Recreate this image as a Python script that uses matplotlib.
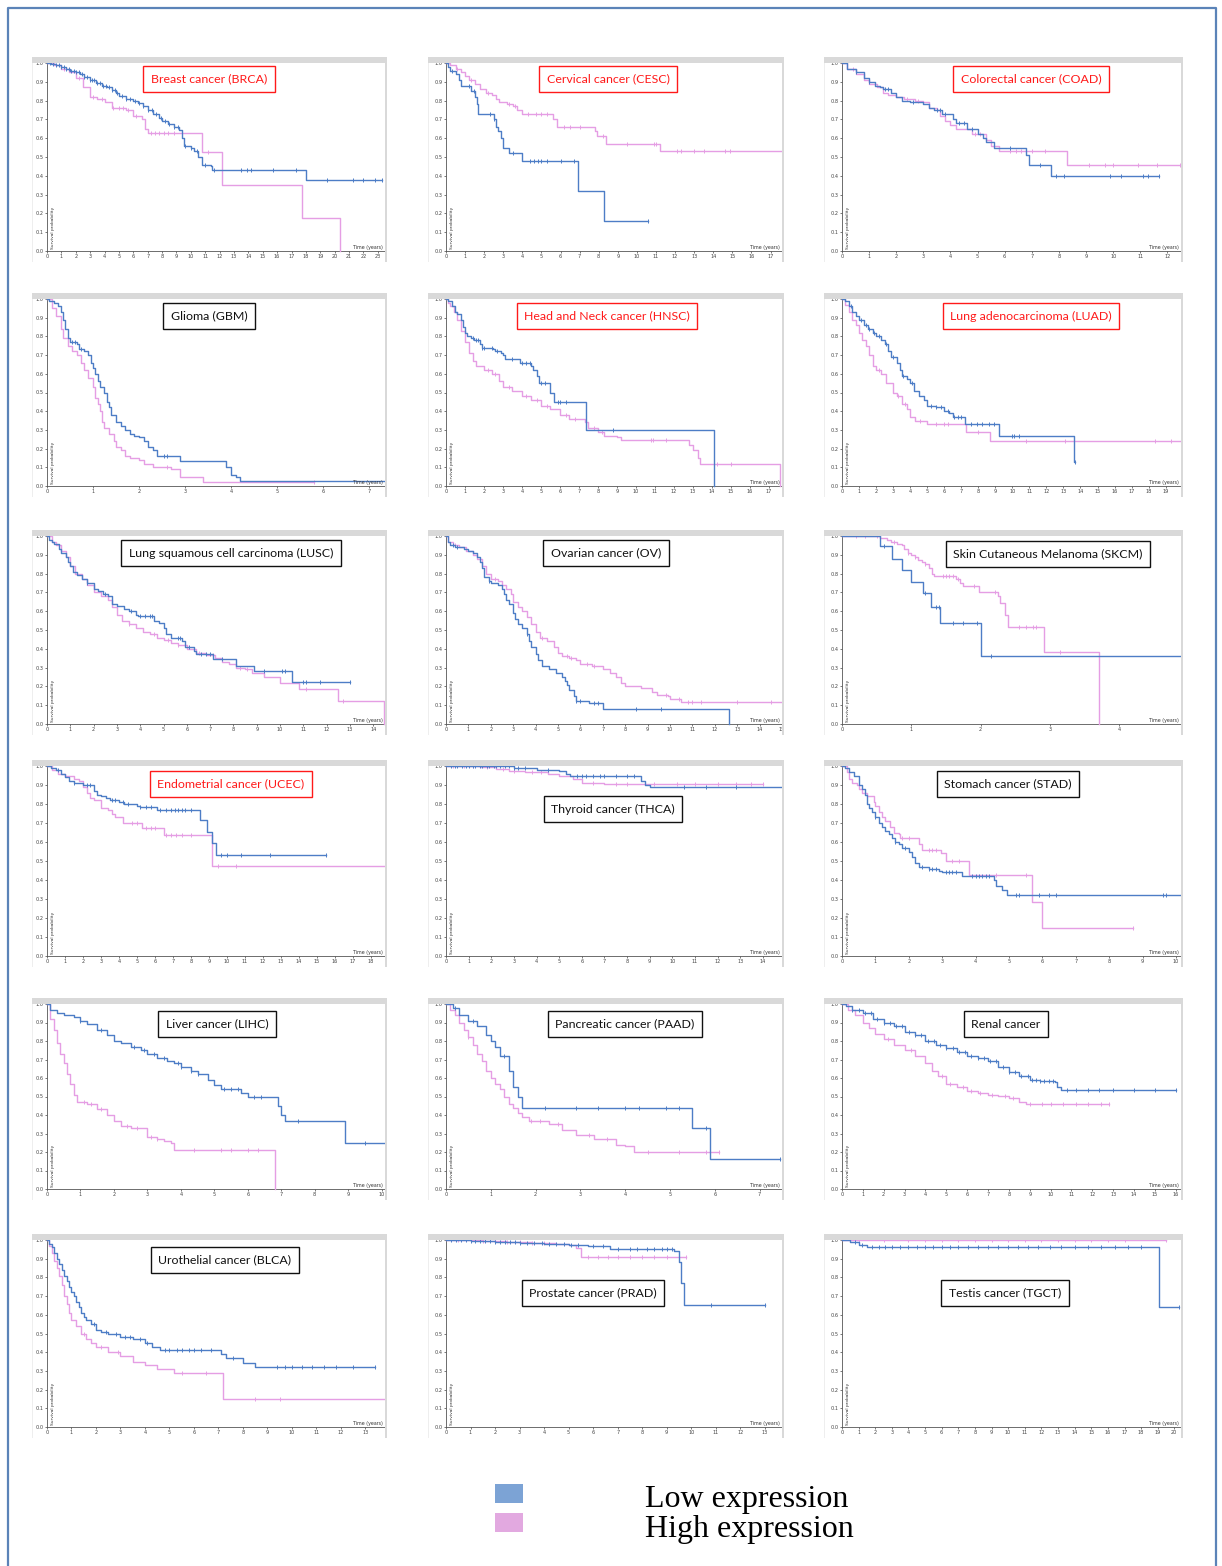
import numpy as np
import matplotlib.pyplot as plt
from matplotlib.patches import Rectangle

W, H = 1222, 1566
BLUE = '#4d7dc6'
PINK = '#e59ee4'

# ---- data: (time, survival after step) ; censor times ----
brca_low = [(0.3, .995), (0.6, .99), (1.0, .98), (1.3, .97), (1.6, .96), (2.0, .95), (2.3, .94),
            (2.6, .925), (3.0, .91), (3.4, .895), (3.8, .88), (4.2, .87), (4.5, .855), (4.8, .84),
            (5.0, .825), (5.5, .81), (6.0, .80), (6.3, .785), (6.7, .77), (7.0, .75), (7.4, .73),
            (7.8, .71), (8.0, .69), (8.4, .675), (8.8, .66), (9.2, .645), (9.4, .60), (9.5, .56),
            (10.0, .55), (10.2, .53), (10.5, .50), (10.8, .46), (11.4, .45), (11.5, .43), (18.0, .38)]
brca_low_c = [0.2, 0.4, 0.6, 0.8, 1.0, 1.2, 1.3, 1.5, 1.7, 1.9, 2.0, 2.2, 2.4, 2.6, 2.8, 3.0, 3.1, 3.3,
              3.5, 3.7, 3.9, 4.1, 4.3, 4.5, 4.7, 4.9, 5.2, 5.5, 5.8, 6.1, 6.4, 6.7, 7.0, 7.3, 7.6, 7.9,
              8.2, 8.5, 8.8, 9.1, 9.6, 10.0, 10.4, 11.0, 11.6, 13.5, 13.9, 14.2, 15.7, 17.3, 19.5,
              21.3, 22.0, 22.8, 23.3]
brca_high = [(0.5, .99), (1.0, .97), (1.5, .95), (2.0, .92), (2.5, .87), (3.0, .82), (3.5, .81),
             (4.0, .79), (4.5, .76), (5.5, .75), (6.0, .72), (6.6, .70), (6.8, .65), (7.0, .63),
             (10.8, .525), (12.2, .35), (17.7, .175), (20.4, 0.0)]
brca_high_c = [1.2, 2.2, 3.2, 3.8, 4.6, 5.0, 5.3, 5.6, 6.2, 7.2, 7.5, 7.8, 8.1, 8.4, 8.8, 11.2]

cesc_low = [(0.1, .98), (0.2, .96), (0.5, .94), (0.7, .91), (0.8, .88), (1.3, .85), (1.5, .82),
            (1.6, .78), (1.7, .73), (2.5, .70), (2.6, .66), (2.7, .64), (2.9, .60), (3.0, .55),
            (3.3, .52), (4.0, .48), (6.9, .32), (8.3, .16)]
cesc_low_c = [0.3, 1.2, 1.45, 2.3, 2.5, 3.5, 4.4, 4.6, 4.8, 5.0, 5.3, 6.0, 6.7, 10.6]
cesc_high = [(0.2, .99), (0.5, .97), (0.8, .95), (1.0, .93), (1.2, .91), (1.5, .89), (1.8, .86),
             (2.1, .84), (2.4, .83), (2.6, .81), (2.8, .79), (3.2, .78), (3.5, .77), (3.7, .75),
             (4.0, .73), (5.6, .70), (5.8, .66), (7.8, .64), (7.9, .61), (8.4, .57), (11.2, .53)]
cesc_high_c = [0.6, 1.3, 2.2, 3.3, 3.6, 4.3, 4.7, 5.0, 5.3, 6.2, 6.5, 7.0, 8.2, 9.5, 10.9, 11.0,
               12.1, 12.3, 13.0, 13.5, 14.6, 14.9, 17.6]

coad_low = [(0.2, .97), (0.5, .95), (0.8, .92), (1.0, .90), (1.2, .88), (1.4, .87), (1.5, .86),
            (1.8, .84), (2.0, .82), (2.2, .80), (2.5, .79), (3.0, .78), (3.2, .76), (3.4, .75),
            (3.7, .73), (4.1, .70), (4.2, .68), (4.6, .65), (5.0, .62), (5.2, .60), (5.3, .58),
            (5.6, .55), (6.8, .51), (6.9, .46), (7.7, .40)]
coad_low_c = [0.5, 1.0, 1.6, 1.7, 2.6, 3.5, 3.6, 3.8, 4.3, 4.5, 4.8, 6.2, 7.3, 7.9, 8.2, 9.9, 10.3,
              11.1, 11.3, 11.7]
coad_high = [(0.2, .97), (0.5, .94), (0.8, .91), (1.0, .89), (1.3, .87), (1.5, .84), (1.7, .83),
             (2.0, .82), (2.3, .81), (2.7, .80), (3.0, .79), (3.2, .76), (3.5, .75), (3.6, .72),
             (3.8, .69), (4.0, .67), (4.2, .65), (4.8, .62), (5.3, .59), (5.5, .56), (5.8, .53),
             (8.3, .46)]
coad_high_c = [0.4, 1.2, 2.4, 2.8, 4.9, 5.1, 6.2, 6.4, 6.6, 7.0, 7.5, 9.1, 9.7, 10.0, 10.9, 11.6,
               12.45]

gbm_low = [(0.05, .99), (0.15, .98), (0.25, .96), (0.3, .93), (0.35, .89), (0.4, .84), (0.45, .79),
           (0.5, .77), (0.65, .76), (0.7, .73), (0.8, .72), (0.9, .70), (0.95, .66), (1.0, .63),
           (1.05, .60), (1.1, .56), (1.15, .53), (1.25, .50), (1.3, .45), (1.35, .42), (1.4, .38),
           (1.5, .34), (1.6, .32), (1.7, .30), (1.8, .28), (1.9, .27), (2.0, .26), (2.1, .24),
           (2.2, .21), (2.3, .19), (2.4, .16), (2.9, .135), (3.9, .10), (4.0, .06), (4.1, .05),
           (4.2, .025)]
gbm_low_c = [0.55, 0.6, 0.75, 2.55, 2.6, 7.35]
gbm_high = [(0.1, .95), (0.2, .91), (0.3, .84), (0.35, .79), (0.45, .75), (0.55, .72), (0.65, .70),
            (0.75, .66), (0.8, .62), (0.9, .58), (1.0, .53), (1.05, .47), (1.1, .44), (1.15, .40),
            (1.2, .34), (1.25, .31), (1.35, .28), (1.45, .24), (1.5, .21), (1.6, .19), (1.7, .16),
            (1.8, .15), (2.0, .14), (2.1, .12), (2.3, .10), (2.7, .09), (2.9, .047), (3.4, .022)]
gbm_high_c = [2.6, 5.8]

hnsc_low = [(0.1, .99), (0.3, .96), (0.5, .93), (0.6, .92), (0.8, .89), (0.9, .85), (1.0, .82),
            (1.1, .80), (1.3, .79), (1.5, .78), (1.8, .76), (1.9, .74), (2.5, .73), (2.6, .72),
            (2.9, .71), (3.0, .70), (3.1, .68), (3.9, .66), (4.5, .64), (4.6, .62), (4.8, .59),
            (4.9, .55), (5.5, .50), (5.7, .45), (7.4, .30), (14.1, 0.0)]
hnsc_low_c = [1.4, 1.6, 1.7, 1.9, 2.0, 2.4, 2.7, 3.5, 4.0, 4.2, 4.4, 5.0, 5.2, 5.9, 6.0, 6.3, 8.8]
hnsc_high = [(0.1, .98), (0.2, .96), (0.4, .93), (0.6, .89), (0.8, .83), (1.0, .77), (1.2, .71),
             (1.4, .67), (1.6, .64), (2.0, .62), (2.4, .60), (2.8, .56), (3.0, .53), (3.5, .51),
             (4.0, .48), (4.5, .46), (5.0, .43), (5.5, .41), (6.0, .38), (6.5, .36), (7.3, .34),
             (7.5, .31), (8.0, .29), (8.3, .27), (9.0, .26), (9.2, .245), (12.8, .22), (13.0, .19),
             (13.3, .15), (13.4, .12), (17.6, 0.0)]
hnsc_high_c = [2.2, 2.6, 3.3, 4.2, 4.8, 5.3, 6.3, 6.8, 7.8, 8.2, 10.8, 10.9, 11.6, 14.3, 15.0]

luad_low = [(0.2, .99), (0.4, .96), (0.6, .93), (0.8, .91), (1.0, .89), (1.3, .86), (1.5, .84),
            (1.8, .82), (2.0, .80), (2.3, .78), (2.5, .76), (2.7, .72), (2.9, .69), (3.2, .66),
            (3.4, .62), (3.5, .59), (3.8, .57), (4.0, .55), (4.2, .51), (4.5, .48), (4.8, .46),
            (5.0, .43), (5.5, .42), (6.0, .40), (6.3, .39), (6.5, .37), (7.2, .33), (9.2, .27),
            (13.6, .13)]
luad_low_c = [0.5, 1.1, 1.4, 1.6, 1.9, 2.2, 2.6, 3.0, 3.6, 4.1, 5.2, 5.5, 5.8, 6.2, 6.6, 6.8, 7.0,
              7.6, 7.9, 8.2, 8.6, 8.9, 10.0, 10.1, 10.4, 13.7]
luad_high = [(0.2, .97), (0.4, .93), (0.6, .89), (0.8, .86), (1.0, .82), (1.2, .78), (1.4, .75),
             (1.6, .70), (1.8, .64), (2.0, .62), (2.3, .60), (2.6, .55), (3.0, .50), (3.2, .48),
             (3.5, .44), (3.8, .41), (4.0, .37), (4.3, .35), (5.0, .33), (7.3, .29), (8.7, .24)]
luad_high_c = [2.2, 3.3, 3.7, 4.6, 5.5, 6.0, 6.2, 8.0, 10.8, 13.1, 18.4, 19.3, 19.9]

lusc_low = [(0.1, .98), (0.2, .97), (0.3, .96), (0.5, .93), (0.6, .91), (0.8, .89), (0.9, .86),
            (1.0, .84), (1.1, .81), (1.3, .79), (1.5, .77), (1.7, .75), (2.0, .72), (2.2, .71),
            (2.4, .69), (2.6, .68), (2.8, .64), (3.0, .63), (3.3, .61), (3.5, .60), (3.8, .58),
            (3.9, .575), (4.6, .55), (4.8, .535), (5.0, .51), (5.1, .48), (5.3, .46), (5.8, .44),
            (5.9, .41), (6.3, .39), (6.4, .37), (7.1, .345), (8.1, .31), (8.9, .28), (10.5, .225)]
lusc_low_c = [1.7, 2.5, 3.6, 4.0, 4.2, 4.4, 4.5, 5.6, 5.7, 6.1, 6.6, 6.8, 7.0, 7.5, 9.3, 10.1, 10.2,
              11.0, 11.1, 11.7, 13.0]
lusc_high = [(0.2, .97), (0.4, .95), (0.6, .92), (0.8, .89), (1.0, .84), (1.2, .80), (1.5, .77),
             (1.7, .74), (2.0, .70), (2.3, .68), (2.6, .66), (2.8, .62), (3.0, .58), (3.2, .55),
             (3.5, .53), (3.8, .51), (4.1, .49), (4.4, .48), (4.7, .46), (5.0, .445), (5.3, .43),
             (5.6, .42), (6.0, .40), (6.4, .38), (6.8, .365), (7.2, .35), (7.5, .33), (7.8, .32),
             (8.1, .30), (8.5, .29), (8.8, .27), (9.3, .25), (10.0, .22), (10.8, .185), (12.5, .125),
             (14.45, 0.0)]
lusc_high_c = [3.5, 4.6, 5.2, 5.6, 6.5, 7.1, 8.3, 8.6, 11.1, 12.7]

ov_low = [(0.1, .97), (0.2, .95), (0.4, .94), (0.8, .93), (1.0, .92), (1.2, .91), (1.4, .89),
          (1.5, .86), (1.6, .83), (1.7, .78), (1.9, .76), (2.0, .75), (2.3, .74), (2.5, .72),
          (2.6, .69), (2.7, .66), (2.8, .64), (3.0, .59), (3.1, .56), (3.2, .53), (3.4, .51),
          (3.6, .48), (3.7, .44), (3.8, .41), (4.0, .37), (4.1, .34), (4.3, .31), (4.6, .29),
          (4.9, .27), (5.2, .25), (5.3, .23), (5.4, .21), (5.5, .18), (5.7, .15), (5.8, .125),
          (6.4, .11), (7.0, .08), (12.65, 0.0)]
ov_low_c = [0.3, 0.5, 1.9, 3.6, 5.8, 6.0, 6.6, 6.8, 8.5, 9.6]
ov_high = [(0.1, .97), (0.3, .95), (0.6, .94), (0.9, .92), (1.2, .90), (1.4, .88), (1.6, .84),
           (1.8, .80), (2.0, .77), (2.3, .76), (2.5, .74), (2.7, .72), (2.9, .69), (3.0, .65),
           (3.2, .62), (3.4, .60), (3.6, .57), (3.8, .53), (4.0, .49), (4.2, .46), (4.5, .44),
           (4.8, .41), (5.0, .38), (5.2, .36), (5.5, .35), (5.8, .34), (6.0, .32), (6.5, .31),
           (7.0, .29), (7.3, .27), (7.6, .25), (7.8, .22), (8.0, .20), (8.7, .19), (9.2, .17),
           (9.4, .155), (9.9, .15), (10.0, .135), (10.5, .115)]
ov_high_c = [0.4, 2.2, 4.3, 5.4, 5.6, 6.3, 6.6, 9.8, 10.4, 10.8, 11.0, 11.4, 13.0, 14.5, 15.0]

skcm_low = [(0.55, .945), (0.72, .88), (0.87, .82), (1.0, .755), (1.17, .695), (1.29, .625),
            (1.42, .535), (2.0, .36)]
skcm_low_c = [0.6, 1.2, 1.35, 1.4, 1.6, 1.75, 1.95, 2.15, 4.89]
skcm_high = [(0.55, .99), (0.65, .98), (0.7, .97), (0.8, .96), (0.87, .95), (0.9, .93), (0.95, .91),
             (1.0, .90), (1.05, .89), (1.1, .875), (1.15, .86), (1.2, .85), (1.25, .83), (1.3, .80),
             (1.32, .785), (1.65, .77), (1.7, .75), (1.75, .735), (1.97, .70), (2.25, .68),
             (2.28, .645), (2.35, .58), (2.4, .515), (2.92, .385), (3.7, 0.0)]
skcm_high_c = [0.2, 0.33, 0.5, 0.75, 0.95, 1.05, 1.2, 1.45, 1.5, 1.55, 1.6, 1.68, 1.9, 2.2, 2.55,
               2.65, 2.75, 2.8, 3.15]

ucec_low = [(0.2, .99), (0.5, .98), (0.8, .96), (1.0, .94), (1.2, .92), (1.5, .91), (2.0, .90),
            (2.6, .87), (2.8, .85), (3.0, .84), (3.3, .83), (3.5, .82), (4.0, .81), (4.3, .80),
            (5.0, .79), (5.2, .785), (6.1, .77), (8.5, .715), (8.9, .655), (9.2, .595), (9.4, .53)]
ucec_low_c = [0.6, 1.5, 2.2, 2.4, 3.6, 3.8, 4.2, 4.5, 5.2, 5.5, 5.8, 6.3, 6.6, 6.9, 7.1, 7.3, 7.5,
              7.7, 8.0, 9.7, 10.0, 10.8, 12.4, 15.5]
ucec_high = [(0.3, .98), (0.6, .96), (1.0, .95), (1.5, .93), (1.8, .92), (2.0, .89), (2.2, .86),
             (2.4, .83), (2.6, .82), (3.0, .78), (3.4, .77), (3.6, .75), (3.8, .73), (4.2, .70),
             (5.3, .675), (6.5, .635), (9.2, .475)]
ucec_high_c = [4.7, 5.0, 5.5, 5.8, 6.0, 6.6, 6.9, 7.2, 7.5, 8.0, 9.5, 10.5, 18.8]

thca_low = [(3.0, .99), (4.0, .98), (5.0, .975), (5.3, .96), (5.5, .95), (8.6, .92), (8.8, .90),
            (9.0, .89)]
thca_low_c = [0.2, 0.4, 0.5, 0.7, 0.9, 1.0, 1.2, 1.3, 1.5, 1.6, 1.8, 1.9, 2.1, 2.2, 2.4, 2.6, 2.8,
              3.0, 3.2, 3.5, 4.5, 5.8, 6.0, 6.2, 6.5, 6.8, 7.0, 7.5, 8.0, 8.3, 10.5, 11.5, 12.8, 14.85]
thca_high = [(0.5, .998), (1.5, .995), (2.2, .985), (2.8, .975), (3.5, .97), (4.5, .96), (5.0, .95),
             (5.6, .93), (6.0, .91), (7.0, .905)]
thca_high_c = [0.3, 0.8, 1.2, 1.8, 2.5, 3.0, 3.8, 4.2, 6.5, 7.5, 8.0, 9.2, 10.2, 11.0, 12.0, 12.8,
               13.5, 14.0]

stad_low = [(0.1, .99), (0.2, .97), (0.35, .95), (0.5, .90), (0.6, .88), (0.7, .85), (0.75, .80),
            (0.8, .78), (0.9, .76), (1.0, .73), (1.1, .70), (1.2, .68), (1.3, .66), (1.4, .64),
            (1.5, .62), (1.6, .60), (1.7, .59), (1.8, .57), (2.0, .55), (2.1, .52), (2.2, .49),
            (2.3, .47), (2.6, .46), (2.9, .45), (3.0, .44), (3.6, .42), (4.55, .40), (4.6, .37),
            (4.8, .35), (4.95, .32)]
stad_low_c = [1.0, 1.6, 1.9, 2.4, 2.6, 2.7, 2.8, 3.1, 3.2, 3.3, 3.4, 3.9, 4.0, 4.1, 4.2, 4.3, 4.4,
              5.2, 5.3, 5.9, 6.2, 6.4, 9.6, 9.7, 10.15]
stad_high = [(0.15, .97), (0.2, .93), (0.3, .91), (0.45, .90), (0.5, .88), (0.6, .86), (0.75, .84),
             (0.95, .81), (1.0, .79), (1.1, .76), (1.2, .73), (1.3, .71), (1.45, .68), (1.55, .65),
             (1.7, .64), (1.75, .62), (2.3, .59), (2.4, .56), (2.95, .54), (3.1, .50), (3.8, .425),
             (5.7, .285), (6.0, .145)]
stad_high_c = [1.8, 2.0, 2.6, 2.7, 2.8, 3.3, 3.5, 4.6, 5.5, 8.7]

lihc_low = [(0.1, .97), (0.3, .95), (0.5, .94), (0.8, .93), (1.0, .91), (1.2, .89), (1.5, .86),
            (1.8, .83), (2.0, .80), (2.2, .79), (2.5, .77), (2.8, .75), (3.0, .73), (3.3, .71),
            (3.6, .69), (3.8, .68), (4.0, .66), (4.3, .64), (4.5, .62), (4.8, .59), (5.0, .56),
            (5.2, .54), (5.8, .52), (6.0, .50), (6.9, .45), (7.0, .40), (7.1, .37), (8.9, .25)]
lihc_low_c = [1.0, 1.6, 2.6, 2.9, 3.2, 3.5, 3.9, 4.0, 4.3, 4.5, 5.3, 5.5, 5.7, 6.2, 6.4, 7.5, 9.5,
              10.1]
lihc_high = [(0.1, .92), (0.2, .86), (0.3, .79), (0.4, .73), (0.5, .68), (0.6, .62), (0.7, .57),
             (0.8, .51), (0.9, .47), (1.2, .46), (1.5, .43), (1.8, .40), (2.0, .37), (2.2, .34),
             (2.5, .33), (3.0, .28), (3.3, .27), (3.5, .26), (3.7, .25), (3.8, .21), (6.8, 0.0)]
lihc_high_c = [1.1, 1.3, 1.6, 2.4, 2.7, 3.1, 3.3, 4.4, 5.2, 5.5, 6.0, 6.3]

paad_low = [(0.15, .98), (0.3, .94), (0.5, .91), (0.7, .88), (0.9, .83), (1.0, .80), (1.1, .77),
            (1.2, .72), (1.4, .64), (1.5, .55), (1.6, .50), (1.7, .44), (5.5, .33), (5.9, .16)]
paad_low_c = [0.2, 0.6, 1.3, 2.2, 2.9, 3.4, 4.0, 4.3, 4.9, 5.2, 5.8, 7.45]
paad_high = [(0.1, .97), (0.2, .94), (0.3, .90), (0.4, .86), (0.5, .82), (0.6, .78), (0.7, .73),
             (0.8, .69), (0.9, .64), (1.0, .60), (1.1, .57), (1.2, .54), (1.3, .50), (1.4, .46),
             (1.5, .44), (1.6, .41), (1.7, .39), (1.85, .37), (2.3, .35), (2.6, .32), (2.9, .29),
             (3.3, .27), (3.8, .24), (4.0, .23), (4.2, .20)]
paad_high_c = [0.5, 1.9, 2.1, 2.5, 3.2, 3.6, 4.5, 5.2, 5.8, 6.1]

renal_low = [(0.2, .99), (0.5, .97), (1.0, .95), (1.5, .92), (2.0, .90), (2.5, .88), (3.0, .85),
             (3.5, .83), (4.0, .80), (4.5, .78), (5.0, .76), (5.5, .74), (6.0, .72), (6.5, .71),
             (7.0, .69), (7.5, .66), (8.0, .63), (8.5, .61), (9.0, .59), (9.5, .585), (10.2, .58),
             (10.3, .55), (10.5, .535)]
renal_low_c = [0.5, 0.8, 1.1, 1.4, 1.7, 2.0, 2.3, 2.6, 2.9, 3.2, 3.5, 3.8, 4.1, 4.4, 4.7, 5.0, 5.3,
               5.6, 5.9, 6.2, 6.5, 6.8, 7.1, 7.4, 7.7, 8.0, 8.3, 8.6, 8.9, 9.1, 9.3, 9.5, 9.7, 9.9,
               10.1, 10.8, 11.2, 11.8, 12.3, 13.0, 14.0, 15.0, 16.0]
renal_high = [(0.3, .97), (0.6, .94), (1.0, .90), (1.3, .87), (1.6, .84), (2.0, .81), (2.5, .78),
              (3.0, .75), (3.5, .72), (4.0, .68), (4.3, .64), (4.6, .61), (5.0, .57), (5.5, .55),
              (6.0, .53), (6.5, .52), (7.0, .51), (7.5, .505), (8.0, .49), (8.5, .47), (8.8, .46)]
renal_high_c = [2.2, 3.3, 4.8, 5.2, 5.8, 6.2, 6.6, 7.2, 7.8, 8.2, 9.0, 9.6, 10.0, 10.6, 11.2, 11.8,
                12.4, 12.8]

blca_low = [(0.1, .98), (0.2, .96), (0.3, .93), (0.4, .90), (0.5, .87), (0.6, .84), (0.7, .81),
            (0.8, .78), (0.9, .75), (1.0, .72), (1.1, .70), (1.2, .67), (1.3, .64), (1.4, .61),
            (1.5, .59), (1.6, .57), (1.8, .55), (2.0, .52), (2.2, .51), (2.5, .50), (3.0, .48),
            (3.5, .47), (4.0, .45), (4.3, .43), (4.6, .41), (7.1, .39), (7.3, .37), (8.0, .34),
            (8.5, .32)]
blca_low_c = [1.9, 2.4, 2.8, 3.2, 3.4, 3.8, 4.1, 4.8, 5.0, 5.3, 5.5, 5.8, 6.0, 6.3, 6.7, 7.6, 9.4,
              9.7, 10.0, 10.4, 10.8, 11.3, 11.8, 12.5, 13.4]
blca_high = [(0.1, .97), (0.2, .93), (0.3, .89), (0.4, .85), (0.5, .81), (0.6, .76), (0.7, .70),
             (0.8, .66), (0.9, .61), (1.0, .57), (1.2, .54), (1.4, .50), (1.6, .47), (1.8, .45),
             (2.0, .43), (2.5, .40), (3.0, .38), (3.5, .35), (4.0, .33), (4.5, .31), (5.2, .29),
             (7.2, .15)]
blca_high_c = [1.5, 2.2, 2.9, 5.5, 6.5, 8.5, 9.5, 13.8]

prad_low = [(1.0, .997), (2.0, .99), (3.0, .985), (4.0, .98), (5.0, .975), (5.8, .97), (6.7, .95),
            (9.3, .94), (9.5, .88), (9.6, .77), (9.7, .65)]
prad_low_c = [0.2, 0.4, 0.6, 0.8, 1.0, 1.2, 1.4, 1.6, 1.8, 2.0, 2.2, 2.4, 2.6, 2.8, 3.0, 3.3, 3.6,
              3.9, 4.2, 4.5, 4.8, 5.1, 5.4, 6.0, 6.4, 7.0, 7.5, 7.8, 8.2, 8.5, 8.8, 9.0, 9.2, 10.8,
              13.0]
prad_high = [(1.5, .995), (2.5, .99), (3.5, .985), (4.5, .98), (5.0, .975), (5.3, .955), (5.5, .91)]
prad_high_c = [0.5, 1.0, 1.5, 2.0, 2.5, 3.0, 3.5, 4.0, 5.8, 6.2, 6.6, 7.0, 7.5, 8.0, 8.5, 9.0, 9.8]

tgct_low = [(0.5, .99), (1.0, .975), (1.5, .965), (19.1, .64)]
tgct_low_c = [0.8, 1.2, 1.8, 2.2, 2.6, 3.0, 3.5, 4.0, 4.5, 5.0, 5.5, 6.0, 6.5, 7.0, 7.6, 8.2, 8.8,
              9.4, 10.0, 10.6, 11.2, 11.8, 12.5, 13.2, 14.0, 14.8, 15.6, 16.4, 17.2, 18.0, 20.3]
tgct_high = []
tgct_high_c = [1.0, 2.5, 4.0, 5.0, 6.0, 7.0, 8.0, 9.0, 10.0, 11.0, 12.0, 13.0, 14.0, 15.0, 16.0,
               17.0, 19.5]

titles = ['Breast cancer (BRCA)', 'Cervical cancer (CESC)', 'Colorectal cancer (COAD)',
          'Glioma (GBM)', 'Head and Neck cancer (HNSC)', 'Lung adenocarcinoma (LUAD)',
          'Lung squamous cell carcinoma (LUSC)', 'Ovarian cancer (OV)', 'Skin Cutaneous Melanoma (SKCM)',
          'Endometrial cancer (UCEC)', 'Thyroid cancer (THCA)', 'Stomach cancer (STAD)',
          'Liver cancer (LIHC)', 'Pancreatic cancer (PAAD)', 'Renal cancer',
          'Urothelial cancer (BLCA)', 'Prostate cancer (PRAD)', 'Testis cancer (TGCT)']
highlighted = [True, True, True, False, True, True, False, False, False,
               True, False, False, False, False, False, False, False, False]
x_max = [23.5, 17.6, 12.5, 7.35, 17.7, 19.9, 14.5, 15.0, 4.89,
         18.8, 14.85, 10.15, 10.1, 7.5, 16.25, 13.8, 13.7, 20.4]
curves = [(brca_low, brca_low_c, brca_high, brca_high_c), (cesc_low, cesc_low_c, cesc_high, cesc_high_c),
          (coad_low, coad_low_c, coad_high, coad_high_c), (gbm_low, gbm_low_c, gbm_high, gbm_high_c),
          (hnsc_low, hnsc_low_c, hnsc_high, hnsc_high_c), (luad_low, luad_low_c, luad_high, luad_high_c),
          (lusc_low, lusc_low_c, lusc_high, lusc_high_c), (ov_low, ov_low_c, ov_high, ov_high_c),
          (skcm_low, skcm_low_c, skcm_high, skcm_high_c), (ucec_low, ucec_low_c, ucec_high, ucec_high_c),
          (thca_low, thca_low_c, thca_high, thca_high_c), (stad_low, stad_low_c, stad_high, stad_high_c),
          (lihc_low, lihc_low_c, lihc_high, lihc_high_c), (paad_low, paad_low_c, paad_high, paad_high_c),
          (renal_low, renal_low_c, renal_high, renal_high_c), (blca_low, blca_low_c, blca_high, blca_high_c),
          (prad_low, prad_low_c, prad_high, prad_high_c), (tgct_low, tgct_low_c, tgct_high, tgct_high_c)]

# ---- layout (pixels) ----
col_x0 = [32, 428, 824]
col_x1 = [387, 784, 1183]
col_ax_l = [47, 446, 842]
row_y0 = [57, 293, 530, 760, 998, 1234]
row_y1 = [262, 497, 735, 967, 1200, 1438]
title_xy = [(209, 79), (608, 79), (1031, 79), (209, 316), (607, 316), (1031, 316),
            (231, 553), (606, 553), (1048, 554), (231, 784), (613, 809), (1008, 784),
            (217, 1024), (625, 1024), (1006, 1024), (225, 1260), (593, 1293), (1005, 1293)]


def fx(x):
    return x / W


def fy(y):
    return 1 - y / H


def km(ax, pts, cens, color):
    t = [0.0] + [p[0] for p in pts]
    s = [1.0] + [p[1] for p in pts]
    end = max([t[-1]] + list(cens))
    t.append(end)
    s.append(s[-1])
    ax.step(t, s, where='post', color=color, lw=1.0, clip_on=False, zorder=3)
    if cens:
        t = np.array(t)
        s = np.array(s)
        idx = np.searchsorted(t, cens, side='right') - 1
        ax.plot(cens, s[idx], ls='none', marker='|', ms=3.0, mew=0.7, color=color,
                clip_on=False, zorder=3)


fig = plt.figure(figsize=(W / 100, H / 100), dpi=100)

# outer frame
fig.add_artist(plt.Line2D([fx(8), fx(8), fx(1216), fx(1216)], [0, fy(8), fy(8), 0],
                          color='#5b83b8', lw=1.6))

for i in range(18):
    r, c = divmod(i, 3)
    x0, x1 = col_x0[c], col_x1[c]
    y0, y1 = row_y0[r], row_y1[r]
    # panel frame: gray top band and right edge
    fig.add_artist(Rectangle((fx(x0), fy(y0 + 6)), fx(x1 - x0), 6 / H, color='#d9d9d9', lw=0))
    fig.add_artist(Rectangle((fx(x1 - 2), fy(y1)), 2 / W, (y1 - y0) / H, color='#d9d9d9', lw=0))
    fig.add_artist(Rectangle((fx(x0), fy(y1)), 1 / W, (y1 - y0 - 6) / H, color='#eeeeee', lw=0))

    al, ar = col_ax_l[c], x1 - 2
    at, ab = y0 + 6, y1 - 11
    ax = fig.add_axes([fx(al), fy(ab), fx(ar - al), (ab - at) / H])
    ax.set_facecolor('none')
    low, low_c, high, high_c = curves[i]
    km(ax, high, high_c, PINK)
    km(ax, low, low_c, BLUE)
    xm = x_max[i]
    ax.set_xlim(0, xm)
    ax.set_ylim(0, 1)
    ax.set_xticks(np.arange(0, int(xm) + 1))
    ax.set_yticks(np.arange(0, 11) / 10)
    ax.set_yticklabels(['%.1f' % v for v in np.arange(0, 11) / 10])
    ax.tick_params(labelsize=3.6, length=1.5, width=0.5, pad=1, colors='#444444')
    for sp in ['top', 'right']:
        ax.spines[sp].set_visible(False)
    for sp in ['left', 'bottom']:
        ax.spines[sp].set_linewidth(0.6)
        ax.spines[sp].set_color('#555555')
    ax.text(0.995, 0.005, 'Time (years)', transform=ax.transAxes, ha='right', va='bottom',
            fontsize=3.4, color='#333333')
    ax.text(0.012, 0.01, 'Survival probability', transform=ax.transAxes, rotation=90,
            ha='left', va='bottom', fontsize=3.2, color='#333333')

    col = '#ff1a1a' if highlighted[i] else '#111111'
    tx, ty = title_xy[i]
    fig.text(fx(tx), fy(ty), titles[i], ha='center', va='center', fontsize=8.9,
             family='Lato', color=col,
             bbox=dict(boxstyle='square,pad=0.6', fc='white', ec=col, lw=1.0))

# legend
fig.add_artist(Rectangle((fx(495), fy(1503)), 28 / W, 19 / H, color='#7ca3d5', lw=0))
fig.add_artist(Rectangle((fx(495), fy(1532)), 28 / W, 19 / H, color='#e2a9e0', lw=0))
fig.text(fx(645), fy(1500), 'Low expression', family='Liberation Serif', fontsize=23,
         ha='left', va='center')
fig.text(fx(645), fy(1529), 'High expression', family='Liberation Serif', fontsize=23,
         ha='left', va='center')

fig.savefig('out.png', dpi=100)
